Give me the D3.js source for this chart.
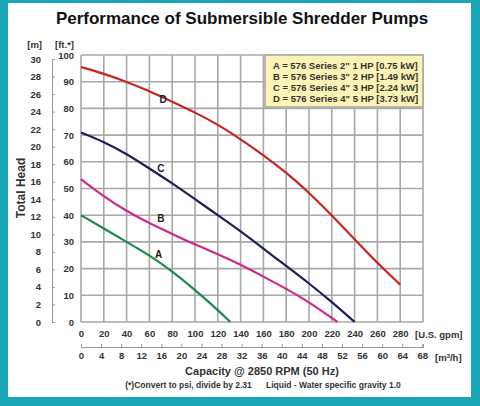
<!DOCTYPE html>
<html lang="en">
<head>
  <meta charset="UTF-8">
  <title>Submersible Shredder Pumps</title>
  <style>
    body { margin: 0; font-family: "Liberation Sans", Arial, sans-serif; }
  </style>
  <script src="https://cdn.jsdelivr.net/npm/d3@7"></script>
</head>
<body>
<script>
  var gpmTicks = d3.range(0, 300, 20);
  var m3hTicks = d3.range(0, 72, 4);
  var ftTicks = d3.range(0, 110, 10);
  var mTicks = d3.range(0, 32, 2);

  var curveA = [[0,40],[20,35],[40,30],[60,25],[80,19],[100,12],[120,4.5],[131,0]];
  var curveB = [[0,53.5],[20,47],[40,41.5],[60,37],[80,33],[100,29],[120,25.5],[140,21.5],[160,17],[180,12.5],[200,7.5],[225,0]];
  var curveC = [[0,71],[20,67.5],[40,63],[60,57.5],[80,52],[100,46],[120,40],[140,34],[160,27.5],[180,21],[200,14.5],[220,7.5],[240,0]];
  var curveD = [[0,95.5],[20,93],[40,90],[60,86.5],[80,82.5],[100,78.5],[120,74],[140,68.5],[160,62.5],[180,56],[200,48.5],[220,40],[240,31],[260,22],[280,14]];
  var curveNames = ["A", "B", "C", "D"];
  var curveColors = ["#1a8a4e", "#cc2a8a", "#1b1f5e", "#c82424"];
  var labelPos = [[68, 24], [70, 37.5], [70, 56], [72, 82]];
  var legendLines = [
    "A = 576 Series 2\" 1 HP [0.75 kW]",
    "B = 576 Series 3\" 2 HP [1.49 kW]",
    "C = 576 Series 4\" 3 HP [2.24 kW]",
    "D = 576 Series 4\" 5 HP [3.73 kW]"
  ];

  var W = 480, H = 406;
  var svg = d3.select("body").append("svg").attr("width", W).attr("height", H);
  svg.append("rect").attr("width", W).attr("height", H).attr("fill", "#1ba6b6");
  svg.append("rect").attr("x", 8).attr("y", 3).attr("width", W - 17).attr("height", H - 12).attr("fill", "#fff");

  var x = d3.scaleLinear().domain([0, 300]).range([81, 423]);
  var xm = d3.scaleLinear().domain([0, 300 / 4.4029]).range([81, 423]);
  var y = d3.scaleLinear().domain([0, 100]).range([322, 55]);
  var ym = d3.scaleLinear().domain([0, 30]).range([322, 59]);

  svg.append("text").attr("x", 242).attr("y", 24).attr("text-anchor", "middle")
    .style("font-size", "17px").style("font-weight", "bold").attr("fill", "#111")
    .text("Performance of Submersible Shredder Pumps");

  // grid
  var grid = svg.append("g").attr("stroke", "#a8a8a8").attr("stroke-width", 1.6);
  d3.range(0, 320, 20).forEach(function(v) {
    grid.append("line").attr("x1", x(v)).attr("x2", x(v)).attr("y1", y(0)).attr("y2", y(100));
  });
  ftTicks.forEach(function(v) {
    grid.append("line").attr("x1", x(0)).attr("x2", x(300)).attr("y1", y(v)).attr("y2", y(v));
  });

  // legend box
  var lg = svg.append("g").attr("transform", "translate(265,55)");
  lg.append("rect").attr("width", 158).attr("height", 52).attr("fill", "#fbf4b4").attr("stroke", "#a8a8a8").attr("stroke-width", 1.6);
  lg.selectAll("text").data(legendLines).enter().append("text")
    .attr("x", 8).attr("y", function(d, i) { return 14 + i * 11; })
    .style("font-size", "9.5px").style("font-weight", "bold").attr("fill", "#333").text(function(d) { return d; });

  // curves
  var line = d3.line().x(function(d) { return x(d[0]); }).y(function(d) { return y(d[1]); }).curve(d3.curveBasis);
  [curveA, curveB, curveC, curveD].forEach(function(c, i) {
    svg.append("path").attr("d", line(c)).attr("fill", "none").attr("stroke", curveColors[i]).attr("stroke-width", 2.2);
    svg.append("text").attr("x", x(labelPos[i][0])).attr("y", y(labelPos[i][1])).attr("text-anchor", "middle")
      .style("font-size", "10px").style("font-weight", "bold").attr("fill", "#222").text(curveNames[i]);
  });

  // axes
  var axisStyle = function(g) {
    g.select(".domain").attr("stroke", "#999");
    g.selectAll(".tick line").attr("stroke", "#999");
    g.selectAll("text").style("font-size", "9.5px").style("font-weight", "bold").attr("fill", "#333");
  };
  svg.append("g").attr("transform", "translate(74,0)")
    .call(d3.axisLeft(y).tickValues(ftTicks).tickSize(0).tickPadding(0)).call(axisStyle)
    .select(".domain").remove();
  svg.append("g").attr("transform", "translate(52,0)")
    .call(d3.axisRight(ym).tickValues(mTicks).tickSize(3).tickPadding(-14)).call(axisStyle)
    .selectAll("text").attr("text-anchor", "end");
  svg.append("g").attr("transform", "translate(0,324)")
    .call(d3.axisBottom(x).tickValues(gpmTicks).tickSize(0).tickPadding(6)).call(axisStyle)
    .select(".domain").remove();
  svg.append("g").attr("transform", "translate(0,347)")
    .call(d3.axisBottom(xm).tickValues(m3hTicks).tickSize(-3).tickPadding(5)).call(axisStyle);

  var bold = function(t) { return t.style("font-weight", "bold").attr("fill", "#333"); };
  bold(svg.append("text").attr("x", 42).attr("y", 48).style("font-size", "9.5px").attr("text-anchor", "end").text("[m]"));
  bold(svg.append("text").attr("x", 74).attr("y", 48).style("font-size", "9.5px").attr("text-anchor", "end").text("[ft.*]"));
  bold(svg.append("text").attr("x", 415).attr("y", 338).style("font-size", "9.5px").text("[U.S. gpm]"));
  bold(svg.append("text").attr("x", 435).attr("y", 361).style("font-size", "9.5px").html("[m<tspan dy='-3' font-size='6px'>3</tspan><tspan dy='3'>/h]</tspan>"));
  bold(svg.append("text").attr("x", 262).attr("y", 375).attr("text-anchor", "middle").style("font-size", "11px").text("Capacity @ 2850 RPM (50 Hz)"));
  bold(svg.append("text").attr("x", 263).attr("y", 388).attr("text-anchor", "middle").style("font-size", "8.5px")
    .attr("xml:space", "preserve").text("(*)Convert to psi, divide by 2.31      Liquid - Water specific gravity 1.0"));
  bold(svg.append("text").attr("transform", "translate(25,188)rotate(-90)").attr("text-anchor", "middle")
    .style("font-size", "12px").text("Total Head"));
</script>
</body>
</html>
